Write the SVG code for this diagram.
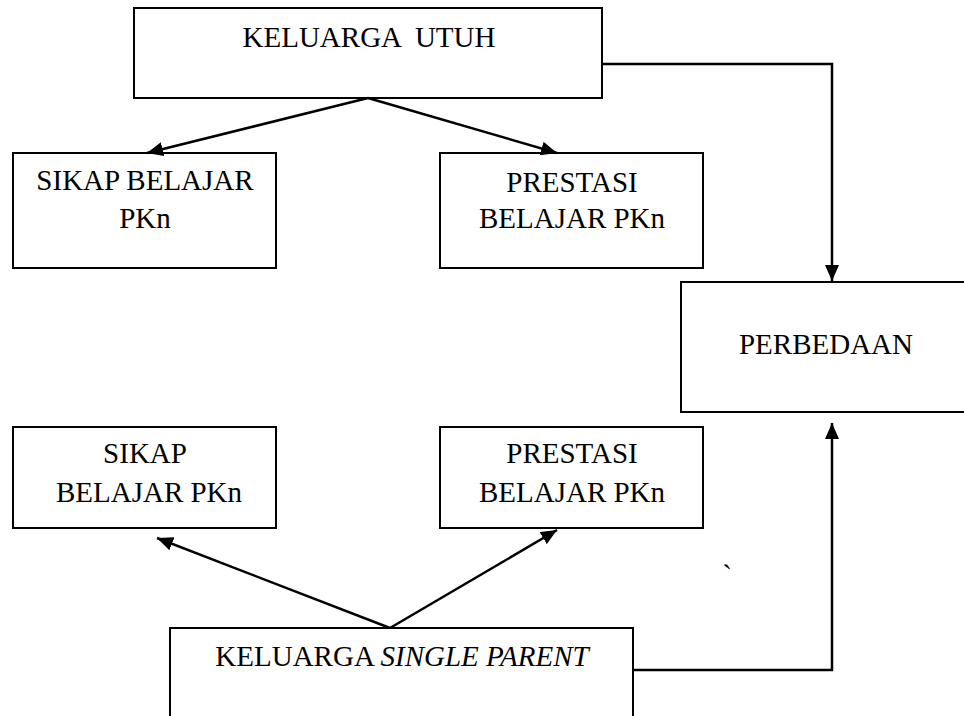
<svg xmlns="http://www.w3.org/2000/svg" width="964" height="716" viewBox="0 0 964 716">
<style>
.box{fill:#fff;stroke:#000;stroke-width:2}
.t{font-family:"Liberation Serif","Times New Roman",serif;font-size:29px;fill:#000;text-anchor:middle}
.c{fill:none;stroke:#000;stroke-width:2.5}
</style>
<defs>
<marker id="ah" markerUnits="userSpaceOnUse" markerWidth="16" markerHeight="14" viewBox="0 0 16 14" refX="16" refY="7" orient="auto">
<polygon points="0,0 16,7 0,14" fill="#000"/>
</marker>
</defs>
<rect width="964" height="716" fill="#fff"/>
<g id="keluarga-utuh">
<rect class="box" x="134" y="8" width="468" height="90"/>
<text class="t" x="369" y="47" xml:space="preserve">KELUARGA  UTUH</text>
</g>
<g id="sikap1">
<rect class="box" x="13" y="153" width="263" height="115"/>
<text class="t" x="145" y="190">SIKAP BELAJAR</text>
<text class="t" x="145" y="228">PKn</text>
</g>
<g id="prestasi1">
<rect class="box" x="440" y="153" width="263" height="115"/>
<text class="t" x="572" y="192">PRESTASI</text>
<text class="t" x="572" y="228">BELAJAR PKn</text>
</g>
<g id="perbedaan">
<rect class="box" x="681" y="282" width="290" height="130"/>
<text class="t" x="826" y="354">PERBEDAAN</text>
</g>
<g id="sikap2">
<rect class="box" x="13" y="427" width="263" height="101"/>
<text class="t" x="145" y="463">SIKAP</text>
<text class="t" x="149" y="502">BELAJAR PKn</text>
</g>
<g id="prestasi2">
<rect class="box" x="440" y="427" width="263" height="101"/>
<text class="t" x="572" y="463">PRESTASI</text>
<text class="t" x="572" y="502">BELAJAR PKn</text>
</g>
<g id="keluarga-single">
<rect class="box" x="170" y="628" width="463" height="100"/>
<text class="t" x="402" y="666">KELUARGA <tspan font-style="italic">SINGLE PARENT</tspan></text>
</g>
<g id="connectors">
<line class="c" x1="368" y1="98" x2="147" y2="153" marker-end="url(#ah)"/>
<line class="c" x1="368" y1="98" x2="557" y2="153" marker-end="url(#ah)"/>
<polyline class="c" points="602,64 832,64 832,281" marker-end="url(#ah)"/>
<line class="c" x1="390" y1="628" x2="157" y2="538" marker-end="url(#ah)"/>
<line class="c" x1="390" y1="628" x2="557" y2="530" marker-end="url(#ah)"/>
<polyline class="c" points="633,670 832,670 832,423" marker-end="url(#ah)"/>
</g>
<text class="t" x="727" y="585" font-size="16">`</text>
</svg>
